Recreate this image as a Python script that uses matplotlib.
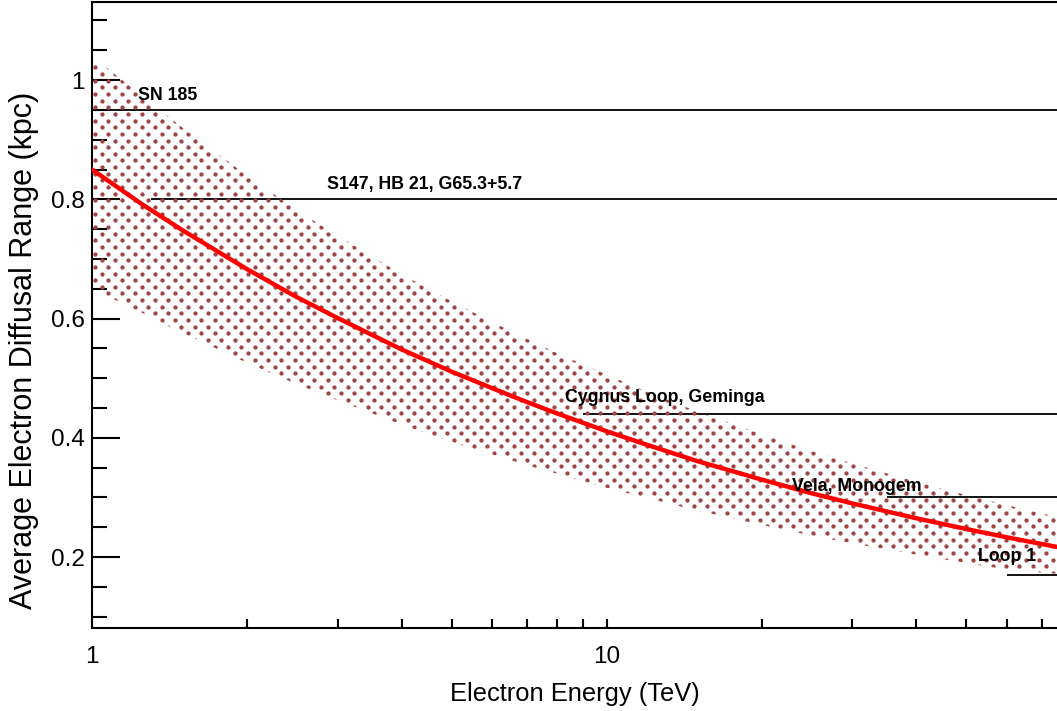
import matplotlib.pyplot as plt
import numpy as np
from matplotlib.ticker import MultipleLocator, FuncFormatter, NullFormatter, FixedLocator

plt.rcParams["font.family"] = ["Liberation Sans", "DejaVu Sans"]

# mean diffusion range of electrons vs energy, with the uncertainty band
energy_tev = [1, 1.25, 1.5, 2, 2.5, 3, 4, 5, 6, 7, 8, 10, 12, 15, 20, 25, 30, 40, 50, 60, 75]
range_mid = [0.850, 0.792, 0.748, 0.683, 0.636, 0.601, 0.548, 0.511, 0.483, 0.460, 0.441,
             0.411, 0.388, 0.361, 0.330, 0.307, 0.290, 0.265, 0.247, 0.233, 0.217]
range_high = [1.040, 0.974, 0.920, 0.840, 0.782, 0.739, 0.674, 0.629, 0.594, 0.566, 0.542,
              0.506, 0.477, 0.444, 0.406, 0.378, 0.357, 0.326, 0.304, 0.287, 0.267]
range_low = [0.650, 0.610, 0.576, 0.526, 0.490, 0.463, 0.422, 0.393, 0.372, 0.354, 0.340,
             0.316, 0.299, 0.278, 0.254, 0.236, 0.223, 0.204, 0.190, 0.179, 0.172]

# nearby remnants: distance (kpc) and the energy where their line begins
remnants = ["SN 185", "S147, HB 21, G65.3+5.7", "Cygnus Loop, Geminga", "Vela, Monogem", "Loop 1"]
remnant_kpc = [0.95, 0.80, 0.44, 0.30, 0.17]
line_start_tev = [1.0, 1.3, 9.0, 35.0, 60.0]

# where each name sits
label_x = [1.23, 2.86, 8.3, 22.9, 52.6]
label_y = [0.966, 0.818, 0.460, 0.310, 0.194]

W, H = 1057, 711
left, bottom, width, height = 92 / W, 83 / H, 965 / W, 626 / H

fig = plt.figure(figsize=(W / 100, H / 100), dpi=100)
ax = fig.add_axes([left, bottom, width, height])
ax.set_xscale("log")

band = ax.fill_between(energy_tev, range_low, range_high, facecolor="none", edgecolor="none")

# staggered dot texture laid out in pixels, clipped to the band
ax_w, ax_h = width * W, height * H
step = 13.3
gx, gy = [], []
for i, y in enumerate(np.arange(2, ax_h, step / 2)):
    xs = np.arange(3 + (step / 2) * (i % 2), ax_w, step)
    gx.extend(xs / ax_w)
    gy.extend([y / ax_h] * len(xs))
dots = ax.scatter(gx, gy, s=9.5, color="#9e4545", linewidths=0,
                  transform=ax.transAxes, zorder=2)
dots.set_clip_path(band.get_paths()[0], ax.transData)

for name, d, x0, tx, ty in zip(remnants, remnant_kpc, line_start_tev, label_x, label_y):
    ax.hlines(d, x0, 75, color="black", lw=1.3, zorder=1)
    ax.text(tx, ty, name, fontsize=12.8, fontweight="bold", ha="left", va="baseline", zorder=4)

ax.plot(energy_tev, range_mid, color="#ff0000", lw=3.2, zorder=3)

ax.set_xlim(1, 75)
ax.set_ylim(0.081, 1.131)

ax.xaxis.set_major_locator(FixedLocator([1, 10]))
ax.xaxis.set_major_formatter(FuncFormatter(lambda v, p: f"{v:g}"))
ax.xaxis.set_minor_locator(FixedLocator([2, 3, 4, 5, 6, 7, 8, 9, 20, 30, 40, 50, 60, 70]))
ax.xaxis.set_minor_formatter(NullFormatter())
ax.yaxis.set_major_locator(MultipleLocator(0.2))
ax.yaxis.set_minor_locator(MultipleLocator(0.05))
ax.yaxis.set_major_formatter(FuncFormatter(lambda v, p: f"{v:g}"))

ax.tick_params(axis="both", which="both", direction="in", labelsize=17.5,
               top=False, right=False)
ax.tick_params(axis="y", which="major", length=20, width=1.5, pad=5)
ax.tick_params(axis="y", which="minor", length=10.5, width=1.5)
ax.tick_params(axis="x", which="both", length=6.5, width=1.5, pad=13)

for side in ["left", "bottom", "top"]:
    ax.spines[side].set_linewidth(1.5)
ax.spines["right"].set_visible(False)

ax.set_xlabel("Electron Energy (TeV)", fontsize=18.4)
ax.set_ylabel("Average Electron Diffusal Range (kpc)", fontsize=22)
ax.xaxis.set_label_coords(0.5, -0.087)
ax.yaxis.set_label_coords(-0.055, 0.444)

fig.savefig("out.png", dpi=100)
